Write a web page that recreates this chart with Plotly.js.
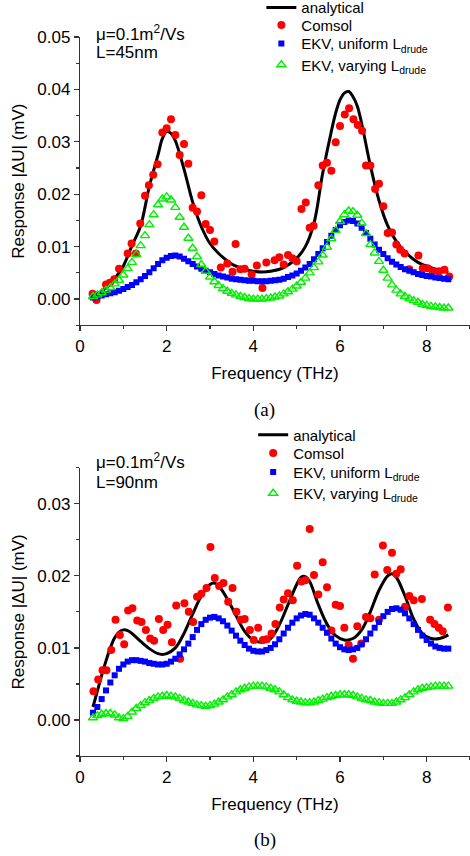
<!DOCTYPE html>
<html>
<head>
<meta charset="utf-8">
<script src="https://cdn.plot.ly/plotly-3.0.1.min.js"></script>
<style>
html,body{margin:0;padding:0;background:#fff;}
#chart{width:470px;height:856px;}
</style>
</head>
<body>
<div id="chart"></div>
<script>
// ---------- shared frequency grid of the EKV models (THz) ----------
const freq = [0.3,0.4,0.5,0.6,0.7,0.8,0.9,1.0,1.1,1.2,1.3,1.4,1.5,1.6,1.7,1.8,1.9,2.0,2.1,2.2,
  2.3,2.4,2.5,2.6,2.7,2.8,2.9,3.0,3.1,3.2,3.3,3.4,3.5,3.6,3.7,3.8,3.9,4.0,4.1,4.2,
  4.3,4.4,4.5,4.6,4.7,4.8,4.9,5.0,5.1,5.2,5.3,5.4,5.5,5.6,5.7,5.8,5.9,6.0,6.1,6.2,
  6.3,6.4,6.5,6.6,6.7,6.8,6.9,7.0,7.1,7.2,7.3,7.4,7.5,7.6,7.7,7.8,7.9,8.0,8.1,8.2,
  8.3,8.4,8.5];

// ---------- panel (a): L = 45 nm ----------
const analyticalA_f = [0.3,0.5,0.7,0.9,1.0,1.2,1.4,1.6,1.8,1.9,2.0,2.1,2.2,2.4,2.6,2.8,3.0,3.2,3.5,3.8,4.1,4.4,4.7,5.0,5.2,5.4,5.6,5.8,5.9,6.0,6.1,6.2,6.3,6.4,6.5,6.7,6.9,7.1,7.3,7.5,7.8,8.1,8.5];
const analyticalA = [0.0005,0.0015,0.0030,0.0050,0.0063,0.0102,0.0140,0.0215,0.0275,0.0306,0.0320,0.0316,0.0302,0.0248,0.0185,0.0138,0.0106,0.0087,0.0067,0.0057,0.0052,0.0053,0.0060,0.0078,0.0100,0.0145,0.0240,0.0320,0.0355,0.0380,0.0393,0.0396,0.0386,0.0368,0.0335,0.0255,0.0188,0.0140,0.0110,0.0090,0.0070,0.0060,0.0051];

const comsolA_f = [0.29,0.38,0.60,0.69,0.79,0.90,1.10,1.19,1.29,1.39,1.50,1.59,1.69,1.79,1.90,2.00,2.10,2.20,2.30,2.40,2.50,2.60,2.70,2.80,2.90,3.00,3.10,3.25,3.40,3.52,3.59,3.70,3.80,3.96,4.08,4.21,4.30,4.49,4.60,4.70,4.80,4.90,5.00,5.11,5.21,5.30,5.39,5.50,5.60,5.70,5.80,5.90,6.00,6.11,6.21,6.31,6.41,6.51,6.60,6.70,6.81,6.90,7.00,7.10,7.20,7.30,7.39,7.49,7.60,7.81,7.91,8.02,8.14,8.29,8.41,8.52];
const comsolA = [0.0010,-0.0002,0.0028,0.0031,0.0038,0.0058,0.0087,0.0106,0.0087,0.0144,0.0197,0.0217,0.0237,0.0257,0.0318,0.0326,0.0343,0.0313,0.0275,0.0296,0.0258,0.0174,0.0167,0.0198,0.0143,0.0132,0.0110,0.0060,0.0068,0.0052,0.0105,0.0057,0.0058,0.0047,0.0064,0.0021,0.0070,0.0074,0.0080,0.0066,0.0084,0.0078,0.0072,0.0172,0.0184,0.0136,0.0140,0.0217,0.0255,0.0260,0.0245,0.0299,0.0330,0.0352,0.0364,0.0343,0.0332,0.0321,0.0255,0.0255,0.0210,0.0220,0.0177,0.0126,0.0127,0.0104,0.0094,0.0087,0.0057,0.0083,0.0059,0.0059,0.0053,0.0053,0.0056,0.0043];

const ekvUniformA = [0.0003,0.0005,0.0007,0.0009,0.0011,0.0013,0.0016,0.0019,0.0023,0.0027,
  0.0032,0.0038,0.0044,0.0051,0.0059,0.0067,0.0074,0.0079,0.0082,0.0083,
  0.0081,0.0077,0.0072,0.0067,0.0062,0.0058,0.0054,0.0051,0.0048,0.0045,
  0.0043,0.0041,0.0039,0.0038,0.0037,0.0036,0.0035,0.0035,0.0034,0.0034,
  0.0034,0.0035,0.0036,0.0037,0.0039,0.0042,0.0045,0.0049,0.0054,0.0060,
  0.0067,0.0076,0.0086,0.0097,0.0109,0.0121,0.0132,0.0141,0.0147,0.0150,
  0.0149,0.0144,0.0136,0.0126,0.0115,0.0104,0.0094,0.0086,0.0078,0.0071,
  0.0066,0.0061,0.0057,0.0054,0.0051,0.0048,0.0046,0.0044,0.0043,0.0041,
  0.0040,0.0039,0.0038];

const ekvVaryingA = [0.0005,0.0008,0.0012,0.0017,0.0022,0.0029,0.0036,0.0046,0.0058,0.0070,
  0.0085,0.0102,0.0121,0.0142,0.0161,0.0180,0.0191,0.0195,0.0189,0.0175,
  0.0156,0.0137,0.0116,0.0097,0.0081,0.0066,0.0053,0.0042,0.0033,0.0026,
  0.0020,0.0015,0.0011,0.0008,0.0005,0.0003,0.0001,0.0000,0.0000,0.0000,
  0.0001,0.0002,0.0004,0.0006,0.0010,0.0014,0.0019,0.0025,0.0032,0.0040,
  0.0050,0.0060,0.0071,0.0084,0.0099,0.0115,0.0131,0.0148,0.0161,0.0168,
  0.0167,0.0160,0.0145,0.0125,0.0104,0.0088,0.0072,0.0055,0.0040,0.0027,
  0.0017,0.0010,0.0005,0.0001,-0.0003,-0.0006,-0.0010,-0.0012,-0.0014,-0.0015,
  -0.0016,-0.0017,-0.0017];

// ---------- panel (b): L = 90 nm ----------
const analyticalB_f = [0.3,0.4,0.5,0.6,0.7,0.8,0.9,1.0,1.1,1.2,1.4,1.6,1.8,1.9,2.0,2.2,2.4,2.6,2.8,3.0,3.1,3.2,3.4,3.6,3.8,4.0,4.2,4.4,4.6,4.8,5.0,5.1,5.2,5.3,5.5,5.7,5.9,6.1,6.3,6.5,6.7,6.9,7.1,7.2,7.3,7.5,7.7,7.9,8.1,8.3,8.5];
const analyticalB = [0.0018,0.0040,0.0062,0.0082,0.0100,0.0114,0.0122,0.0125,0.0124,0.0120,0.0109,0.0099,0.0092,0.0091,0.0092,0.0100,0.0120,0.0147,0.0172,0.0188,0.0190,0.0186,0.0168,0.0145,0.0123,0.0111,0.0108,0.0113,0.0132,0.0160,0.0188,0.0198,0.0199,0.0192,0.0160,0.0133,0.0117,0.0111,0.0113,0.0125,0.0150,0.0180,0.0200,0.0203,0.0198,0.0172,0.0140,0.0120,0.0113,0.0113,0.0118];

const comsolB_f = [0.31,0.42,0.52,0.61,0.72,0.82,0.92,1.02,1.11,1.21,1.32,1.42,1.52,1.62,1.71,1.82,1.92,2.02,2.12,2.22,2.31,2.41,2.51,2.61,2.70,2.80,2.92,3.01,3.11,3.21,3.31,3.42,3.52,3.61,3.71,3.80,3.92,4.01,4.11,4.22,4.31,4.42,4.51,4.61,4.70,4.80,4.91,5.01,5.11,5.20,5.30,5.40,5.50,5.60,5.70,5.80,5.90,6.00,6.10,6.20,6.30,6.40,6.49,6.60,6.70,6.80,6.90,6.99,7.09,7.20,7.30,7.40,7.50,7.60,7.70,7.89,8.08,8.18,8.28,8.37,8.49];
const comsolB = [0.0040,0.0056,0.0069,0.0069,0.0097,0.0139,0.0118,0.0105,0.0152,0.0155,0.0138,0.0136,0.0125,0.0113,0.0110,0.0140,0.0125,0.0132,0.0108,0.0159,0.0085,0.0162,0.0150,0.0136,0.0171,0.0175,0.0183,0.0240,0.0197,0.0186,0.0190,0.0164,0.0183,0.0150,0.0139,0.0140,0.0125,0.0111,0.0128,0.0111,0.0112,0.0120,0.0133,0.0156,0.0167,0.0176,0.0166,0.0214,0.0192,0.0194,0.0265,0.0201,0.0174,0.0219,0.0184,0.0124,0.0160,0.0158,0.0128,0.0104,0.0085,0.0130,0.0106,0.0143,0.0141,0.0202,0.0139,0.0242,0.0208,0.0232,0.0203,0.0209,0.0157,0.0172,0.0166,0.0168,0.0139,0.0133,0.0128,0.0123,0.0156];

const ekvUniformB = [0.0010,0.0018,0.0029,0.0041,0.0052,0.0062,0.0071,0.0077,0.0081,0.0083,
  0.0083,0.0082,0.0081,0.0079,0.0078,0.0077,0.0077,0.0078,0.0081,0.0085,
  0.0091,0.0098,0.0106,0.0115,0.0125,0.0133,0.0139,0.0142,0.0143,0.0141,
  0.0137,0.0131,0.0124,0.0117,0.0110,0.0104,0.0099,0.0096,0.0095,0.0095,
  0.0097,0.0100,0.0105,0.0112,0.0120,0.0128,0.0135,0.0141,0.0145,0.0147,
  0.0146,0.0141,0.0135,0.0128,0.0121,0.0113,0.0106,0.0101,0.0098,0.0097,
  0.0098,0.0100,0.0105,0.0112,0.0120,0.0128,0.0136,0.0144,0.0150,0.0154,
  0.0155,0.0153,0.0148,0.0141,0.0133,0.0125,0.0117,0.0111,0.0106,0.0102,
  0.0100,0.0099,0.0099];

const ekvVaryingB = [0.0003,0.0006,0.0008,0.0009,0.0009,0.0007,0.0003,0.0002,0.0005,0.0011,
  0.0016,0.0020,0.0024,0.0027,0.0030,0.0032,0.0033,0.0034,0.0033,0.0032,
  0.0030,0.0027,0.0025,0.0023,0.0021,0.0020,0.0019,0.0020,0.0022,0.0025,
  0.0028,0.0032,0.0035,0.0039,0.0042,0.0044,0.0046,0.0047,0.0047,0.0047,
  0.0046,0.0044,0.0042,0.0039,0.0035,0.0031,0.0028,0.0026,0.0025,0.0024,
  0.0024,0.0025,0.0027,0.0029,0.0031,0.0033,0.0034,0.0035,0.0035,0.0035,
  0.0034,0.0032,0.0030,0.0028,0.0027,0.0025,0.0024,0.0023,0.0023,0.0023,
  0.0025,0.0028,0.0031,0.0035,0.0039,0.0042,0.0044,0.0045,0.0046,0.0047,
  0.0047,0.0047,0.0047];

// ---------- text ----------
const seriesNames = ['analytical', 'Comsol', 'EKV, uniform L<sub>drude</sub>', 'EKV, varying L<sub>drude</sub>'];
const xTitle = 'Frequency (THz)';
const yTitle = 'Response |ΔU| (mV)';
const muText = 'μ=0.1m<sup>2</sup>/Vs';
const lenA = 'L=45nm';
const lenB = 'L=90nm';

// ---------- styles ----------
const FONT = 'Liberation Sans, Arial, Helvetica, sans-serif';
function makeTraces(xa, ya, legendIds, aF, aY, cF, cY, uY, vY) {
  return [
    {x: aF, y: aY, xaxis: xa, yaxis: ya, legend: legendIds[0], type: 'scatter', mode: 'lines', name: seriesNames[0],
     line: {color: '#000', width: 3, shape: 'spline', smoothing: 1}},
    {x: cF, y: cY, xaxis: xa, yaxis: ya, legend: legendIds[1], type: 'scatter', mode: 'markers', name: seriesNames[1],
     marker: {symbol: 'circle', color: '#ff0000', size: 8}},
    {x: freq, y: uY, xaxis: xa, yaxis: ya, legend: legendIds[2], type: 'scatter', mode: 'markers', name: seriesNames[2],
     marker: {symbol: 'square', color: '#0000ff', size: 6}},
    {x: freq, y: vY, xaxis: xa, yaxis: ya, legend: legendIds[3], type: 'scatter', mode: 'markers', name: seriesNames[3],
     marker: {symbol: 'triangle-up-open', color: '#00f000', size: 8, line: {width: 1.4}}}
  ];
}

const data = [].concat(
  makeTraces('x', 'y', ['legend', 'legend2', 'legend3', 'legend4'], analyticalA_f, analyticalA, comsolA_f, comsolA, ekvUniformA, ekvVaryingA),
  makeTraces('x2', 'y2', ['legend5', 'legend6', 'legend7', 'legend8'], analyticalB_f, analyticalB, comsolB_f, comsolB, ekvUniformB, ekvVaryingB)
);

function xAxis(anchor) {
  return {
    anchor: anchor, domain: [0, 1], range: [0, 9], tick0: 0, dtick: 2,
    ticks: 'outside', ticklen: 5, tickwidth: 1.2, tickcolor: '#333',
    showline: true, linecolor: '#333', linewidth: 1.2,
    showgrid: false, zeroline: false, automargin: false,
    minor: {dtick: 1, ticks: 'outside', ticklen: 3, tickwidth: 1.2, tickcolor: '#333', showgrid: false},
    tickfont: {family: FONT, size: 17, color: '#000'},
    title: {text: xTitle, font: {family: FONT, size: 17, color: '#000'}, standoff: 12}
  };
}
function yAxis(anchor, domain, range) {
  return {
    anchor: anchor, domain: domain, range: range, tick0: 0, dtick: 0.01, tickformat: '.2f',
    ticks: 'outside', ticklen: 5, tickwidth: 1.2, tickcolor: '#333',
    showline: true, linecolor: '#333', linewidth: 1.2,
    showgrid: false, zeroline: false, automargin: false,
    minor: {dtick: 0.005, ticks: 'outside', ticklen: 3, tickwidth: 1.2, tickcolor: '#333', showgrid: false},
    tickfont: {family: FONT, size: 17, color: '#000'},
    title: {text: yTitle, font: {family: FONT, size: 17, color: '#000'}, standoff: 8}
  };
}

function legendAt(x, yPx) {
  return {
    x: x, y: 1 - yPx / 856, xanchor: 'left', yanchor: 'middle',
    bgcolor: 'rgba(0,0,0,0)', borderwidth: 0,
    font: {family: FONT, size: 15, color: '#000'}, tracegroupgap: 0, itemwidth: 30
  };
}

const layout = {
  width: 470, height: 856,
  margin: {l: 80, r: 0, t: 0, b: 0, autoexpand: false},
  paper_bgcolor: '#fff', plot_bgcolor: '#fff',
  font: {family: FONT, size: 17, color: '#000'},
  showlegend: true,
  xaxis: xAxis('y'),
  yaxis: yAxis('x', [0.6200, 0.9568], [-0.005, 0.05]),
  xaxis2: xAxis('y2'),
  yaxis2: yAxis('x2', [0.1168, 0.4536], [-0.005, 0.035]),
  legend:  legendAt(0.465, 7.8),
  legend2: legendAt(0.465, 25.3),
  legend3: legendAt(0.465, 43.8),
  legend4: legendAt(0.465, 65.0),
  legend5: legendAt(0.444, 435.0),
  legend6: legendAt(0.444, 453.3),
  legend7: legendAt(0.444, 472.3),
  legend8: legendAt(0.444, 493.5),
  annotations: [
    {text: muText, xref: 'paper', yref: 'paper', x: 0.036, y: 0.9612, xanchor: 'left', yanchor: 'middle', showarrow: false, font: {family: FONT, size: 17}},
    {text: lenA, xref: 'paper', yref: 'paper', x: 0.036, y: 0.9390, xanchor: 'left', yanchor: 'middle', showarrow: false, font: {family: FONT, size: 17}},
    {text: '(a)', xref: 'paper', yref: 'paper', x: 0.474, y: 0.521, xanchor: 'center', yanchor: 'middle', showarrow: false, font: {family: 'Liberation Serif, Times New Roman, serif', size: 19}},
    {text: muText, xref: 'paper', yref: 'paper', x: 0.036, y: 0.4610, xanchor: 'left', yanchor: 'middle', showarrow: false, font: {family: FONT, size: 17}},
    {text: lenB, xref: 'paper', yref: 'paper', x: 0.036, y: 0.4358, xanchor: 'left', yanchor: 'middle', showarrow: false, font: {family: FONT, size: 17}},
    {text: '(b)', xref: 'paper', yref: 'paper', x: 0.474, y: 0.0187, xanchor: 'center', yanchor: 'middle', showarrow: false, font: {family: 'Liberation Serif, Times New Roman, serif', size: 19}}
  ]
};

Plotly.newPlot('chart', data, layout, {staticPlot: true, displayModeBar: false});
</script>
</body>
</html>
